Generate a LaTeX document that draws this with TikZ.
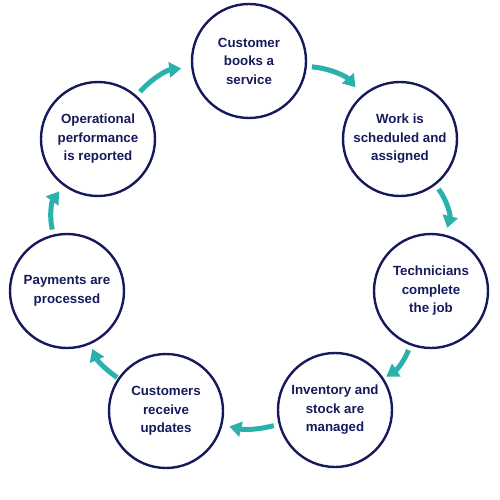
\documentclass[tikz,border=0pt]{standalone}
\usepackage{fontspec}
\setmainfont{Liberation Sans}
\usetikzlibrary{arrows.meta}
\definecolor{navy}{HTML}{161A5C}
\definecolor{teal}{HTML}{2AB1AB}
\begin{document}
\begin{tikzpicture}[x=1pt,y=-1pt]
		\tikzset{stage/.style={draw=navy,line width=2.4pt,circle,minimum size=114pt,inner sep=0pt,
			align=center,text=navy,font=\fontsize{13.3}{18.5}\selectfont\bfseries},
			flow/.style={draw=teal,line width=5pt,-{Triangle[width=15pt,length=12pt]},
			shorten <=5pt,shorten >=7pt}}
		\useasboundingbox (0,0) rectangle (500,500);
		\node [stage] (book) at (249,61) {Customer\\books a\\service};
		\node [stage] (sched) at (400,139) {Work is\\scheduled and\\assigned};
		\node [stage] (tech) at (431,291) {Technicians\\complete\\the job};
		\node [stage] (stock) at (335,410) {Inventory and\\stock are\\managed};
		\node [stage] (upd) at (166,411) {Customers\\receive\\updates};
		\node [stage] (pay) at (67,291) {Payments are\\processed};
		\node [stage] (perf) at (98,139) {Operational\\performance\\is reported};
		\draw [flow,shorten >=10pt] (book) to [bend left=22] (sched);
		\draw [flow] (sched) to [bend left=26] (tech);
		\draw [flow,shorten >=3pt] (tech) to [bend left=18] (stock);
		\draw [flow] (stock) to [bend left=14] (upd);
		\draw [flow,shorten <=1pt,shorten >=5pt] (upd) to [bend left=16] (pay);
		\draw [flow] (pay) to [bend left=25] (perf);
		\draw [flow,shorten >=10pt] (perf) to [bend left=21] (book);
\end{tikzpicture}
\end{document}
